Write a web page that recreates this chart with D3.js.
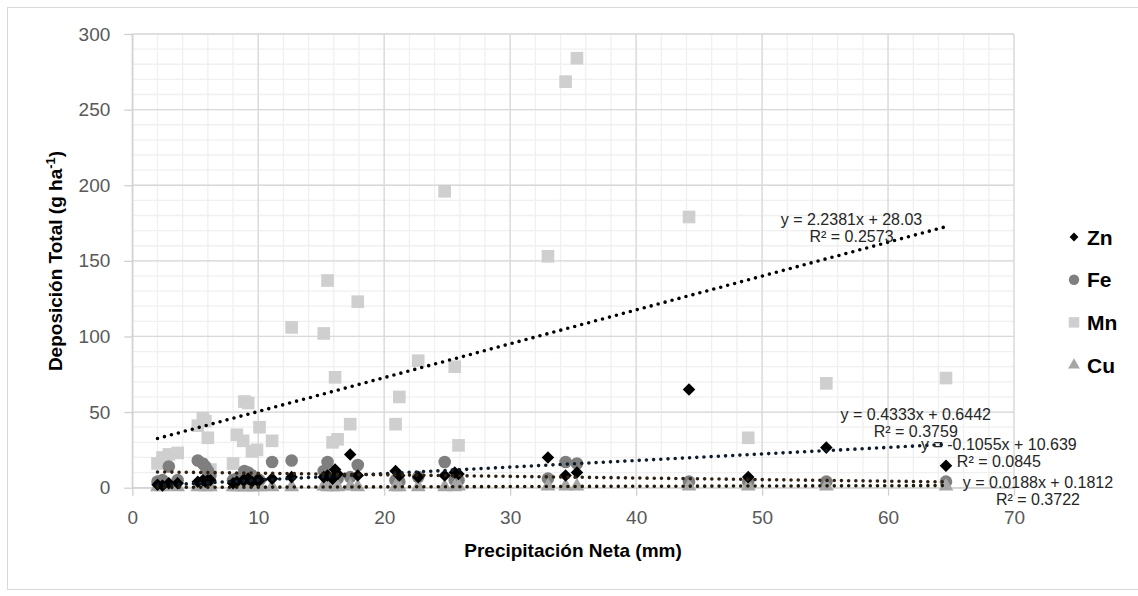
<!DOCTYPE html>
<html>
<head>
<meta charset="utf-8">
<script src="https://cdn.jsdelivr.net/npm/d3@7/dist/d3.min.js"></script>
<style>
  html, body { margin: 0; padding: 0; background: #fff; }
  svg { display: block; font-family: "Liberation Sans", Arial, sans-serif; }
</style>
</head>
<body>
<svg id="chart" width="1138" height="596"></svg>
<script>
// ---------------- data ----------------
const precip = [2.0, 2.4, 2.9, 3.6, 5.2, 5.6, 5.8, 6.0, 6.2, 8.0, 8.3, 8.8, 8.9, 9.2, 9.5, 9.9, 10.1, 11.1,
  12.65, 15.2, 15.5, 15.9, 16.1, 16.3, 17.3, 17.9, 20.9, 21.2, 22.7, 24.8, 25.6, 25.9, 33.0, 34.4, 35.3,
  44.2, 48.9, 55.1, 64.6];
const zn = [2, 1.5, 3, 3, 4, 5, 4, 5, 5, 3, 4, 5, 5, 6, 4, 5, 5, 6,
  7, 7, 8, 6, 12, 9, 22, 8, 11, 8, 7, 8, 10, 9, 20, 8, 10,
  65, 7, 26.5, 14.5];
const fe = [4, 5, 14, 5, 18, 16, 14, 11, 8, 5, 6, 7, 11, 10, 8, 6, 5, 17,
  18, 11, 17, 5, 8, 6, 7, 15, 5, 4, 7, 17, 5, 5, 6, 17, 16,
  4, 4, 4, 4];
const mn = [16, 20, 22, 23, 41, 46, 44, 33, 12, 16, 35, 31, 57, 56, 24, 25, 40, 31,
  106, 102, 137, 30, 73, 32, 42, 123, 42, 60, 84, 196, 80, 28, 153, 268.5, 284,
  179, 33, 69, 72.5];
const cu = [0.5, 0.5, 0.8, 0.5, 0.5, 1, 0.5, 1, 0.5, 0.5, 0.5, 0.5, 0.5, 0.5, 0.5, 0.5, 0.5, 0.5,
  0.5, 1, 0.5, 0.5, 1, 0.5, 1, 0.5, 0.5, 0.5, 0.5, 0.5, 0.5, 1, 1, 1, 1,
  1, 1, 1, 1];

const seriesNames = ["Zn", "Fe", "Mn", "Cu"];
const trendSlope = [0.4333, -0.1055, 2.2381, 0.0188];
const trendIntercept = [0.6442, 10.639, 28.03, 0.1812];
const trendEq = ["y = 0.4333x + 0.6442", "y = -0.1055x + 10.639", "y = 2.2381x + 28.03", "y = 0.0188x + 0.1812"];
const trendR2 = ["R² = 0.3759", "R² = 0.0845", "R² = 0.2573", "R² = 0.3722"];
// label anchor in data units (centre of first line)
const labelX = [62.2, 68.8, 57.1, 71.9];
const labelY = [48.8, 28.9, 177.7, 4.0];

const xTicks = [0, 10, 20, 30, 40, 50, 60, 70];
const yTicks = [0, 50, 100, 150, 200, 250, 300];

// ---------------- layout ----------------
const svg = d3.select("#chart");
const L = 132.3, R = 1014, T = 34, B = 487.7;
const x = d3.scaleLinear().domain([0, 70]).range([L, R]);
const y = d3.scaleLinear().domain([0, 300]).range([B, T]);

// outer border
svg.append("rect").attr("x", 7.5).attr("y", 7.5).attr("width", 1160).attr("height", 582)
  .attr("fill", "none").attr("stroke", "#d9d9d9").attr("stroke-width", 1);

// minor grid
const g = svg.append("g");
g.selectAll("line.vminor").data(d3.range(0, 71, 2)).join("line")
  .attr("x1", d => x(d)).attr("x2", d => x(d)).attr("y1", T).attr("y2", B)
  .attr("stroke", "#f0f0f0").attr("stroke-width", 1.3);
g.selectAll("line.hminor").data(d3.range(0, 301, 10)).join("line")
  .attr("x1", L).attr("x2", R).attr("y1", d => y(d)).attr("y2", d => y(d))
  .attr("stroke", "#f0f0f0").attr("stroke-width", 1.3);
// major grid
g.selectAll("line.vmajor").data(xTicks).join("line")
  .attr("x1", d => x(d)).attr("x2", d => x(d)).attr("y1", T).attr("y2", B)
  .attr("stroke", "#d9d9d9").attr("stroke-width", 1.3);
g.selectAll("line.hmajor").data(yTicks).join("line")
  .attr("x1", L).attr("x2", R).attr("y1", d => y(d)).attr("y2", d => y(d))
  .attr("stroke", "#d9d9d9").attr("stroke-width", 1.3);

// axes
const yAxis = svg.append("g").attr("transform", `translate(${L},0)`)
  .call(d3.axisLeft(y).tickValues(yTicks).tickSize(8).tickPadding(14).tickSizeOuter(0));
const xAxis = svg.append("g").attr("transform", `translate(0,${B})`)
  .call(d3.axisBottom(x).tickValues(xTicks).tickSize(8).tickPadding(15).tickSizeOuter(0));
[yAxis, xAxis].forEach(a => {
  a.select(".domain").attr("stroke", "#d0d0d0").attr("stroke-width", 1.3);
  a.selectAll(".tick line").attr("stroke", "#d0d0d0").attr("stroke-width", 1.3);
  a.selectAll(".tick text").attr("fill", "#595959").style("font-size", "19px")
    .style("font-family", "'Liberation Sans', Arial, sans-serif");
});

// axis titles
svg.append("text").attr("x", 573).attr("y", 557).attr("text-anchor", "middle")
  .style("font-size", "19px").style("font-weight", "bold").attr("fill", "#000")
  .text("Precipitación Neta (mm)");
const yt = svg.append("text").attr("transform", "translate(62,261) rotate(-90)")
  .attr("text-anchor", "middle").style("font-size", "19px").style("font-weight", "bold").attr("fill", "#000");
yt.append("tspan").text("Deposición Total (g ha");
yt.append("tspan").attr("dy", -7).style("font-size", "13px").text("-1");
yt.append("tspan").attr("dy", 7).text(")");

// ---------------- markers ----------------
const rows = precip.map((p, i) => ({ p, zn: zn[i], fe: fe[i], mn: mn[i], cu: cu[i] }));
const sym = {
  Zn: d3.symbol().type(d3.symbolDiamond2).size(100),
  Fe: d3.symbol().type(d3.symbolCircle).size(125),
  Mn: d3.symbol().type(d3.symbolSquare).size(160),
  Cu: d3.symbol().type(d3.symbolTriangle).size(95)
};
const col = { Zn: "#000000", Fe: "#7f7f7f", Mn: "#cfcfcf", Cu: "#a6a6a6" };
const key = { Zn: "zn", Fe: "fe", Mn: "mn", Cu: "cu" };

["Mn", "Fe", "Cu", "Zn"].forEach(s => {
  svg.append("g").selectAll("path").data(rows).join("path")
    .attr("transform", d => `translate(${x(d.p)},${y(d[key[s]])})`)
    .attr("d", sym[s]()).attr("fill", col[s]);
});

// ---------------- trendlines ----------------
const xMin = d3.min(precip), xMax = d3.max(precip);
const trendCol = ["#0d1b2a", "#2e1f10", "#000000", "#1f1a08"];
seriesNames.forEach((s, i) => {
  const f = v => trendSlope[i] * v + trendIntercept[i];
  svg.append("line")
    .attr("x1", x(xMin)).attr("y1", y(f(xMin)))
    .attr("x2", x(xMax)).attr("y2", y(f(xMax)))
    .attr("stroke", trendCol[i]).attr("stroke-width", 3.6)
    .attr("stroke-linecap", "round").attr("stroke-dasharray", "0,7.2");
});
seriesNames.forEach((s, i) => {
  const t = svg.append("text").attr("text-anchor", "middle")
    .style("font-size", "16px").attr("fill", "#262626");
  t.append("tspan").attr("x", x(labelX[i])).attr("y", y(labelY[i]) + 6).text(trendEq[i]);
  t.append("tspan").attr("x", x(labelX[i])).attr("y", y(labelY[i]) + 23).text(trendR2[i]);
});

// ---------------- legend ----------------
const legSym = {
  Zn: d3.symbol().type(d3.symbolDiamond2).size(50),
  Fe: d3.symbol().type(d3.symbolCircle).size(85),
  Mn: d3.symbol().type(d3.symbolSquare).size(110),
  Cu: d3.symbol().type(d3.symbolTriangle).size(60)
};
const leg = svg.append("g");
seriesNames.forEach((s, i) => {
  const yy = 237 + i * 42.7;
  leg.append("path").attr("transform", `translate(1074,${yy})`).attr("d", legSym[s]()).attr("fill", col[s]);
  leg.append("text").attr("x", 1087).attr("y", yy + 7.5).style("font-size", "21px")
    .style("font-weight", "bold").attr("fill", "#000").text(s);
});
</script>
</body>
</html>
